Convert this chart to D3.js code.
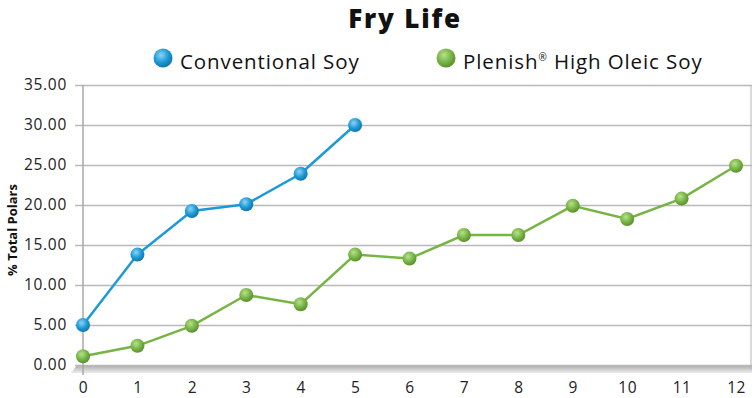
<!DOCTYPE html>
<html>
<head>
<meta charset="utf-8">
<script src="https://cdn.jsdelivr.net/npm/d3@7"></script>
<style>
  body { margin: 0; background: #fff; }
  svg { display: block; font-family: "Open Sans", sans-serif; }
</style>
</head>
<body>
<svg id="chart" width="752" height="398"></svg>
<script>
const days = [0, 1, 2, 3, 4, 5, 6, 7, 8, 9, 10, 11, 12];
const conventional = [5.0, 13.8, 19.25, 20.1, 23.9, 30.0];
const plenish = [1.1, 2.4, 4.9, 8.75, 7.6, 13.8, 13.3, 16.25, 16.25, 19.9, 18.25, 20.8, 24.9];
const yTicks = [0, 5, 10, 15, 20, 25, 30, 35];

const series = [
  { name: "Conventional Soy", values: conventional, color: "#1b9ad6", light: "#8fd3f5", dark: "#1276a8" },
  { name: "Plenish", values: plenish, color: "#76b443", light: "#b9e08f", dark: "#5a8f2f" }
];

const svg = d3.select("#chart");
const x = d3.scaleLinear().domain([0, 12]).range([83, 736]);
const y = d3.scaleLinear().domain([0, 35]).range([365, 85]);

const defs = svg.append("defs");
series.forEach((s, i) => {
  const g = defs.append("radialGradient").attr("id", "dot" + i)
    .attr("cx", "40%").attr("cy", "35%").attr("r", "65%");
  g.append("stop").attr("offset", "0%").attr("stop-color", s.light);
  g.append("stop").attr("offset", "60%").attr("stop-color", s.color);
  g.append("stop").attr("offset", "100%").attr("stop-color", s.dark);
});
const floorGrad = defs.append("linearGradient").attr("id", "floor")
  .attr("x1", 0).attr("y1", 0).attr("x2", 0).attr("y2", 1);
floorGrad.append("stop").attr("offset", "0%").attr("stop-color", "#a9a9a9");
floorGrad.append("stop").attr("offset", "100%").attr("stop-color", "#ececec");

// floor band under the plot
svg.append("path")
  .attr("d", `M77,${y(0)} L752,${y(0)} L752,${y(0) + 8} L71,${y(0) + 8} Z`)
  .attr("fill", "url(#floor)");

// right wall edge
svg.append("line")
  .attr("x1", 751).attr("x2", 751).attr("y1", y(35)).attr("y2", y(0) + 4)
  .attr("stroke", "#b5b5b5").attr("stroke-width", 1);

// grid + y axis
const yAxis = d3.axisLeft(y).tickValues(yTicks).tickFormat(d3.format(".2f"))
  .tickSize(-(752 - 83)).tickPadding(16);
const yg = svg.append("g").attr("transform", "translate(83,0)").call(yAxis);
yg.select(".domain").remove();
yg.selectAll(".tick line").attr("stroke", "#b9b9b9").attr("stroke-width", 1.5).attr("x1", -8);
yg.selectAll(".tick text").attr("font-size", 15.5).attr("fill", "#222")
  .attr("letter-spacing", 0.7)
  .attr("font-family", "Open Sans, sans-serif");

svg.append("line")
  .attr("x1", 83).attr("x2", 83).attr("y1", y(35)).attr("y2", y(0) + 10)
  .attr("stroke", "#a8a8a8").attr("stroke-width", 1.5);

// x axis labels
const xAxis = d3.axisBottom(x).tickValues(days).tickSize(0).tickPadding(0);
const xg = svg.append("g").attr("transform", `translate(0,${y(0) + 17})`).call(xAxis);
xg.select(".domain").remove();
xg.selectAll(".tick text").attr("font-size", 15.5).attr("fill", "#222")
  .attr("letter-spacing", 0.5)
  .attr("font-family", "Open Sans, sans-serif");

// y label
svg.append("text")
  .attr("transform", `translate(17,${(y(0) + y(35)) / 2 + 5}) rotate(-90)`)
  .attr("text-anchor", "middle")
  .attr("font-size", 13).attr("font-weight", "bold").attr("fill", "#111")
  .text("% Total Polars");

// lines and dots
const line = d3.line().x((d, i) => x(days[i])).y(d => y(d));
series.forEach((s, i) => {
  svg.append("path").datum(s.values)
    .attr("d", line).attr("fill", "none")
    .attr("stroke", s.color).attr("stroke-width", 2.5);
  svg.selectAll(".dot" + i).data(s.values).enter().append("circle")
    .attr("class", "dot" + i)
    .attr("cx", (d, j) => x(days[j])).attr("cy", d => y(d))
    .attr("r", 7).attr("fill", `url(#dot${i})`);
});

// title
svg.append("text")
  .attr("x", 405).attr("y", 27.5).attr("text-anchor", "middle")
  .attr("font-size", 26).attr("font-weight", 800).attr("fill", "#111")
  .attr("letter-spacing", 1.8)
  .text("Fry Life");

// legend
const legend = [
  { x: 163, label: "Conventional Soy", sup: null },
  { x: 446, label: "Plenish", sup: "®", rest: " High Oleic Soy" }
];
legend.forEach((l, i) => {
  svg.append("circle").attr("cx", l.x).attr("cy", 58).attr("r", 9.5)
    .attr("fill", `url(#dot${i})`);
  const t = svg.append("text").attr("x", l.x + 17).attr("y", 69)
    .attr("font-size", 20.5).attr("fill", "#111").attr("letter-spacing", 0.9);
  t.append("tspan").text(l.label);
  if (l.sup) {
    t.append("tspan").text(l.sup).attr("font-size", 10).attr("dy", -8);
    t.append("tspan").text(l.rest).attr("dy", 8);
  }
});
</script>
</body>
</html>
